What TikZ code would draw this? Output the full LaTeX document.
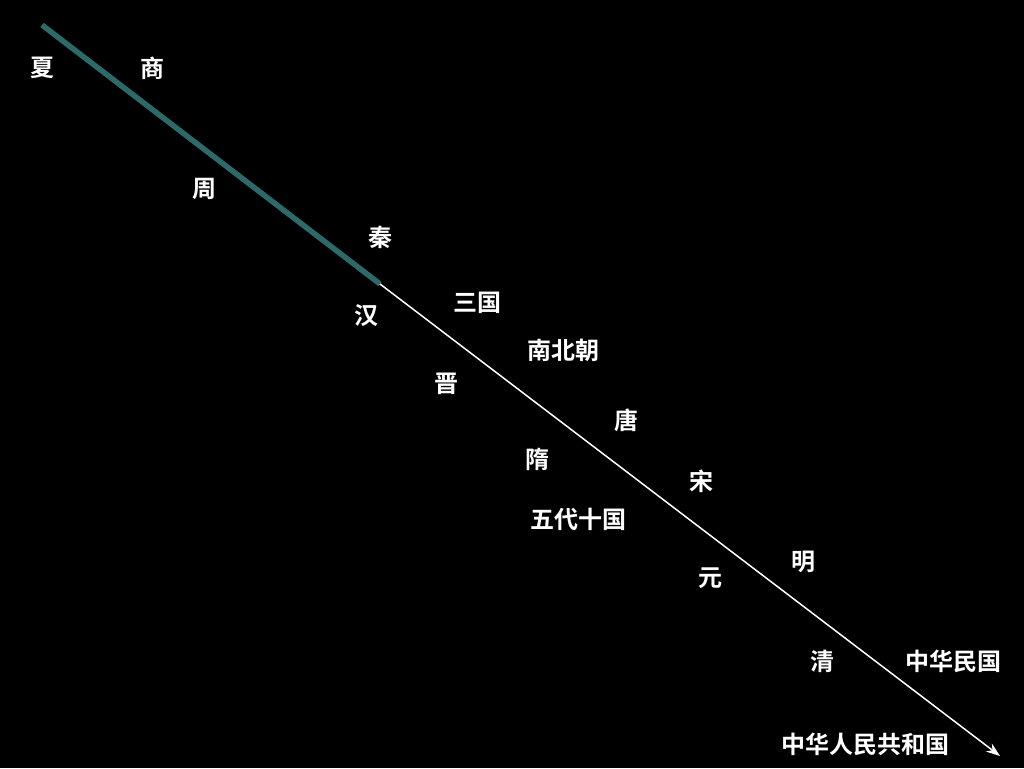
\documentclass[tikz,border=0pt]{standalone}
\usepackage{fontspec}
\newfontfamily\cjk{Noto Sans CJK SC}[BoldFont={Noto Sans CJK SC Bold}]
\usetikzlibrary{arrows.meta}
\definecolor{tealline}{HTML}{2C6A69}
\tikzset{
  era/.style={text=white,font=\cjk\bfseries\fontsize{24}{26}\selectfont,inner sep=0pt,anchor=center},
}
\begin{document}
\begin{tikzpicture}[x=1pt,y=-1pt]
\fill[black] (0,0) rectangle (1024,768);
\useasboundingbox (0,0) rectangle (1024,768);
\coordinate (s) at (42,25);
\coordinate (m) at (380,284);
\coordinate (e) at (1000,756);
\draw[tealline,line width=5.5pt] (s) -- (m);
\draw[white,line width=1.5pt,-{Stealth[length=14pt,width=10pt]}] (m) -- (e);
\node[era] (xia) at (42,68) {夏};
\node[era] (shang) at (152,68) {商};
\node[era] (zhou) at (204,189) {周};
\node[era] (qin) at (380,237) {秦};
\node[era] (han) at (366,316) {汉};
\node[era] (sanguo) at (477,303) {三国};
\node[era] (nbc) at (563,350) {南北朝};
\node[era] (jin) at (446,384) {晋};
\node[era] (tang) at (626,420) {唐};
\node[era] (sui) at (537,459) {隋};
\node[era] (song) at (701,481) {宋};
\node[era] (wudai) at (578,519) {五代十国};
\node[era] (ming) at (803,562) {明};
\node[era] (yuan) at (710,578) {元};
\node[era] (qing) at (822,661) {清};
\node[era] (minguo) at (953,661) {中华民国};
\node[era] (prc) at (865,744) {中华人民共和国};
\end{tikzpicture}
\end{document}
